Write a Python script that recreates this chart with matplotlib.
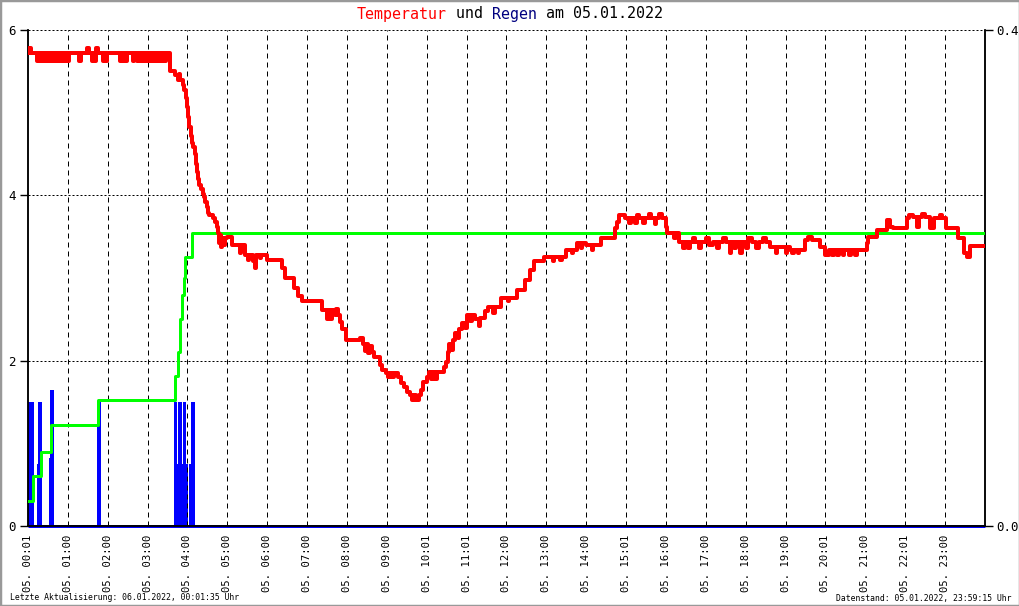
import matplotlib
matplotlib.use("Agg")
import matplotlib.pyplot as plt
from matplotlib.patches import Rectangle

# ---------------- data ----------------
# temperature (minutes after midnight, degC)
temp_min = [0, 1, 5, 14, 16, 18, 21, 23, 26, 28, 30, 32, 35, 37, 40, 42, 45, 47, 50, 53, 56, 58, 61, 77, 79,
            89, 92, 96, 98, 100, 102, 103, 106, 113, 115, 117, 119, 138, 140, 142, 145, 147, 149, 158, 160,
            164, 167, 169, 172, 175, 178, 181, 184, 187, 190, 193, 196, 199, 202, 205, 207, 213,
            221, 225, 227, 229, 233, 235, 237, 239, 241, 243, 245, 247, 249, 251, 253, 254, 256, 258, 261,
            263, 265, 267, 269, 271, 273, 278, 281, 284, 286, 288, 289, 291, 292, 294, 296, 299, 307, 319,
            321, 326, 331, 333, 338, 341, 343, 349, 351, 359, 382, 386, 401, 406, 412, 443, 450, 452, 455,
            457, 462, 464, 466, 469, 473, 479, 500, 504, 507, 509, 512, 514, 517, 520, 530, 533, 538, 542,
            545, 548, 551, 557, 561, 566, 571, 575, 578, 581, 584, 588, 591, 595, 600, 603, 607, 609, 613,
            616, 626, 629, 632, 634, 637, 639, 642, 647, 649, 653, 658, 661, 665, 668, 672, 678, 680, 688,
            692, 700, 703, 712, 722, 724, 736, 748, 756, 762, 776, 790, 792, 800, 803, 810, 818, 820, 826,
            832, 834, 840, 848, 850, 862, 883, 886, 890, 898, 905, 908, 913, 916, 920, 925, 928, 934, 938,
            943, 945, 950, 954, 960, 962, 972, 975, 980, 985, 988, 993, 996, 1000, 1004, 1010, 1013, 1020,
            1024, 1030, 1036, 1039, 1046, 1050, 1056, 1058, 1062, 1066, 1072, 1074, 1080, 1084, 1090, 1096,
            1100, 1106, 1110, 1116, 1125, 1127, 1140, 1142, 1146, 1150, 1153, 1158, 1160, 1169, 1174, 1180,
            1191, 1199, 1206, 1210, 1213, 1218, 1220, 1226, 1228, 1236, 1239, 1244, 1247, 1262, 1264, 1278,
            1293, 1297, 1301, 1322, 1326, 1332, 1337, 1340, 1345, 1350, 1357, 1363, 1372, 1376, 1382, 1399,
            1409, 1413, 1417, 1440]
temp_val = [5.72, 5.78, 5.72, 5.63, 5.72, 5.63, 5.72, 5.63, 5.72, 5.63, 5.72, 5.63, 5.72, 5.63, 5.72, 5.63,
            5.72, 5.63, 5.72, 5.63, 5.72, 5.63, 5.72, 5.63, 5.72,
            5.78, 5.72, 5.63, 5.72, 5.63, 5.72, 5.78, 5.72, 5.63, 5.72, 5.63, 5.72, 5.63, 5.72, 5.63, 5.72,
            5.63, 5.72, 5.63, 5.72,
            5.63, 5.72, 5.63, 5.72, 5.63, 5.72, 5.63, 5.72, 5.63, 5.72, 5.63, 5.72, 5.63, 5.72, 5.63, 5.72, 5.51,
            5.45, 5.40, 5.47, 5.40, 5.33, 5.27, 5.18, 5.07, 4.95, 4.83, 4.72, 4.63, 4.58, 4.50, 4.38, 4.28,
            4.20, 4.12, 4.08,
            4.02, 3.98, 3.92, 3.86, 3.79, 3.76, 3.73, 3.68, 3.62, 3.55, 3.42, 3.52, 3.38, 3.48, 3.40, 3.48,
            3.50, 3.40, 3.30,
            3.40, 3.28, 3.22, 3.28, 3.20, 3.12, 3.28, 3.24, 3.28, 3.22, 3.12, 3.00, 2.88, 2.78, 2.72, 2.61,
            2.50, 2.61, 2.50,
            2.61, 2.55, 2.62, 2.55, 2.47, 2.38, 2.25, 2.28, 2.20, 2.12, 2.20, 2.09, 2.18, 2.10, 2.05, 1.95,
            1.89, 1.85, 1.80,
            1.85, 1.80, 1.85, 1.80, 1.73, 1.68, 1.62, 1.58, 1.52, 1.58, 1.52, 1.58, 1.65, 1.74, 1.80, 1.86,
            1.78, 1.86, 1.78,
            1.86, 1.92, 1.98, 2.10, 2.20, 2.13, 2.25, 2.33, 2.28, 2.38, 2.45, 2.40, 2.55, 2.48, 2.55, 2.50,
            2.42, 2.52, 2.60,
            2.65, 2.58, 2.65, 2.76, 2.72, 2.76, 2.85, 2.97, 3.10, 3.20, 3.25, 3.20, 3.25, 3.22, 3.25, 3.34,
            3.30, 3.34, 3.42,
            3.36, 3.42, 3.40, 3.34, 3.40, 3.48, 3.60, 3.68, 3.76, 3.72, 3.66, 3.72, 3.66, 3.76, 3.72, 3.66,
            3.72, 3.78, 3.72,
            3.65, 3.72, 3.78, 3.72, 3.62, 3.54, 3.48, 3.54, 3.44, 3.36, 3.44, 3.36, 3.44, 3.48, 3.44, 3.36,
            3.44, 3.48,
            3.40, 3.44, 3.36, 3.44, 3.48, 3.44, 3.30, 3.44, 3.36, 3.44, 3.30, 3.44, 3.36, 3.48, 3.44, 3.36,
            3.44, 3.48, 3.44, 3.38, 3.30, 3.38, 3.30, 3.38, 3.34, 3.30, 3.34, 3.30, 3.34, 3.46, 3.50, 3.46,
            3.38, 3.28, 3.34, 3.28, 3.34, 3.28, 3.34, 3.28, 3.34, 3.28, 3.34, 3.28, 3.34, 3.42, 3.50, 3.58,
            3.70, 3.62, 3.60, 3.72, 3.76, 3.74, 3.62, 3.74, 3.78, 3.74, 3.60, 3.72, 3.76, 3.72, 3.60, 3.48,
            3.30, 3.26, 3.39, 3.39]

# accumulated rain (drawn on the left scale), step starts in hours
rain_sum_h = [0.00, 0.13, 0.33, 0.58, 1.76, 3.69, 3.76, 3.82, 3.86, 3.90, 3.94, 4.11, 24.0]
rain_sum_v = [0.30, 0.60, 0.90, 1.22, 1.52, 1.82, 2.10, 2.50, 2.80, 3.00, 3.25, 3.55, 3.55]

# rain per interval (right scale, mm): start hour, end hour, amount
rain_start = [0.00, 0.00, 0.22, 0.24, 0.53, 0.56, 1.72, 1.74, 3.66, 3.72, 3.76, 3.88, 4.05, 4.10]
rain_end   = [0.03, 0.14, 0.36, 0.34, 0.64, 0.64, 1.84, 1.82, 3.74, 4.00, 3.86, 3.96, 4.20, 4.18]
rain_val   = [0.05, 0.10, 0.05, 0.10, 0.055, 0.11, 0.05, 0.10, 0.10, 0.05, 0.10, 0.10, 0.05, 0.10]

hour_ticks = list(range(24))
hour_labels = ["05. 00:01", "05. 01:00", "05. 02:00", "05. 03:00", "05. 04:00", "05. 05:00",
               "05. 06:00", "05. 07:00", "05. 08:00", "05. 09:00", "05. 10:01", "05. 11:01",
               "05. 12:00", "05. 13:00", "05. 14:00", "05. 15:01", "05. 16:00", "05. 17:00",
               "05. 18:00", "05. 19:00", "05. 20:01", "05. 21:00", "05. 22:01", "05. 23:00"]
left_ticks = [0, 2, 4, 6]
right_ticks = [0.0, 0.4]

# ---------------- plot ----------------
MONO = "DejaVu Sans Mono"
plt.rcParams["font.family"] = MONO
W, H = 1020, 606
fig = plt.figure(figsize=(W / 100, H / 100), dpi=100)
fig.patch.set_facecolor("white")
fig.add_artist(Rectangle((0, 0), 1, 1, transform=fig.transFigure, fill=False,
                         edgecolor="#999999", linewidth=2.5))

L, R, T, B = 28, 985, 30, 526
ax = fig.add_axes([L / W, 1 - B / H, (R - L) / W, (B - T) / H])
ax2 = ax.twinx()
ax.set_zorder(ax2.get_zorder() + 1)
ax.patch.set_visible(False)

px = 0.72
# grid
for h in hour_ticks[1:]:
    ax.axvline(h, color="black", lw=1 * px, dashes=(5, 4), zorder=0)
for v in left_ticks[1:]:
    ax.axhline(v, color="black", lw=1 * px, dashes=(2, 2), zorder=0)

# rain bars
ax2.bar(rain_start, rain_val, width=[e - s for s, e in zip(rain_start, rain_end)],
        align="edge", color="#0000ff", linewidth=0)
ax2.plot([0, 24], [0, 0], color="#0000ff", lw=3 * px, clip_on=False, solid_capstyle="butt")

# rain sum
ax.step(rain_sum_h, rain_sum_v, where="post", color="#00ff00", lw=3 * px, zorder=3)
# temperature
ax.step([m / 60 for m in temp_min], temp_val, where="post", color="#ff0000", lw=4 * px, zorder=4)

ax.set_xlim(0, 24)
ax.set_ylim(0, 6)
ax2.set_ylim(0, 0.4)

ax.set_xticks(hour_ticks)
ax.set_xticklabels(hour_labels, rotation=90, fontsize=7.6)
ax.tick_params(axis="x", length=0, pad=6)
ax.set_yticks(left_ticks)
ax.set_yticklabels([str(v) for v in left_ticks], fontsize=9)
ax.tick_params(axis="y", length=6, width=1, pad=3, direction="out")
ax2.set_yticks(right_ticks)
ax2.set_yticklabels(["%.1f" % v for v in right_ticks], fontsize=9)
ax2.tick_params(axis="y", length=6, width=1, pad=2, direction="out")

for a in (ax, ax2):
    a.spines["top"].set_visible(False)
    for s in ("left", "right", "bottom"):
        a.spines[s].set_color("black")
        a.spines[s].set_linewidth(1.5 * px)

# title (multi-colour, monospace)
title_parts = [("Temperatur", "#ff0000"), (" und ", "black"), ("Regen", "#000080"),
               (" am 05.01.2022", "black")]
fs_title = 10.8
cw = fs_title / 72 * 100 * 0.602
total = sum(len(t) for t, _ in title_parts)
x0 = 510 - total * cw / 2
i = 0
for txt, col in title_parts:
    fig.text((x0 + i * cw) / W, 1 - 14 / H, txt, color=col, fontsize=fs_title,
             ha="left", va="center", family=MONO)
    i += len(txt)

fig.text(10 / W, 1 - 598 / H, "Letzte Aktualisierung: 06.01.2022, 00:01:35 Uhr",
         fontsize=5.9, ha="left", va="center")
fig.text(1012 / W, 1 - 598 / H, "Datenstand: 05.01.2022, 23:59:15 Uhr",
         fontsize=5.9, ha="right", va="center")

fig.savefig("out.png", dpi=100, facecolor="white")
